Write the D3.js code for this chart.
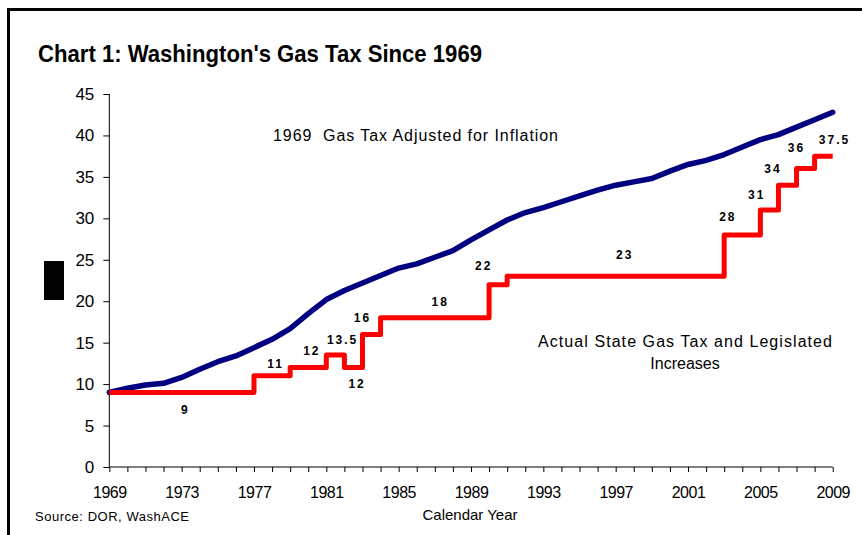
<!DOCTYPE html>
<html>
    <head>
        <meta charset="utf-8"/>
        <title>Chart 1: Washington's Gas Tax Since 1969</title>
        <script src="https://d3js.org/d3.v7.min.js"></script>
        <style>
            body { margin: 0; background: #fff; }
            svg { display: block; font-family: "Liberation Sans", Arial, sans-serif; }
        </style>
    </head>
    <body>
        <div id="output"></div>
        <script>
            //Calendar years shown on the x axis
            var years = d3.range(1969, 2010);

            //1969 gas tax adjusted for inflation (cents per gallon), one value per year
            var adjustedTax = [9.0, 9.5, 9.9, 10.1, 10.8, 11.8, 12.7, 13.4, 14.4, 15.4,
                               16.7, 18.5, 20.2, 21.3, 22.2, 23.1, 24.0, 24.5, 25.3, 26.1,
                               27.4, 28.6, 29.8, 30.7, 31.3, 32.0, 32.7, 33.4, 34.0, 34.4,
                               34.8, 35.7, 36.5, 37.0, 37.7, 38.6, 39.5, 40.1, 41.0, 41.9,
                               42.8];

            //Actual state gas tax: year each rate took effect and the rate
            var stepYears  = [1969, 1977, 1979, 1981, 1982, 1983, 1984, 1990, 1991, 2003, 2005, 2006, 2007, 2008, 2009];
            var stepValues = [9, 11, 12, 13.5, 12, 16, 18, 22, 23, 28, 31, 34, 36, 37.5, 37.5];

            //Rate labels and where they sit (in year / cents units)
            var labelText  = ["9", "11", "12", "13.5", "12", "16", "18", "22", "23", "28", "31", "34", "36", "37.5"];
            var labelYear  = [1973.2, 1978.2, 1980.2, 1981.9, 1982.7, 1983.0, 1987.3, 1989.7, 1997.5, 2003.2, 2004.8, 2005.7, 2007.0, 2009.1];
            var labelValue = [6.9, 12.5, 14.0, 15.4, 10.0, 18.0, 19.9, 24.3, 25.6, 30.2, 32.9, 36.0, 38.5, 39.5];

            //Tick values
            var yTicks = d3.range(0, 50, 5);
            var xLabelYears = d3.range(1969, 2010, 4);

            var width = 862, height = 535;

            var svg = d3.select("#output")
                .append("svg")
                    .attr("width", width)
                    .attr("height", height);

            //Frame (top and left edges only are visible)
            svg.append("path")
                .attr("d", "M8.5,535 V9.5 H862")
                .attr("fill", "none")
                .attr("stroke", "#000")
                .attr("stroke-width", 3);

            //Title
            svg.append("text")
                .attr("x", 38)
                .attr("y", 62)
                .attr("textLength", 444)
                .attr("lengthAdjust", "spacingAndGlyphs")
                .style("font-family", "'Liberation Sans Narrow', 'Arial Narrow', 'Liberation Sans', sans-serif")
                .style("font-size", "24px")
                .style("font-weight", "bold")
                .text("Chart 1: Washington's Gas Tax Since 1969");

            //Scales
            var x = d3.scaleLinear()
                .domain([1969, 2009])
                .range([109.3, 832.7]);
            var y = d3.scaleLinear()
                .domain([0, 45])
                .range([467, 94]);

            //Y axis
            var yAxis = svg.append("g")
                .attr("transform", "translate(" + x(1969) + ",0)")
                .call(d3.axisLeft(y).tickValues(yTicks).tickSize(6).tickPadding(9).tickFormat(d3.format("d")));
            yAxis.select(".domain").attr("d", "M0," + y(45) + "V" + y(0));
            yAxis.selectAll("text")
                .style("font-size", "17px")
                .style("font-family", "'Liberation Sans', Arial, sans-serif")
                .attr("fill", "#000");

            //X axis, a tick every year, a label every four years
            var xAxis = svg.append("g")
                .attr("transform", "translate(0," + y(0) + ")")
                .call(d3.axisBottom(x).tickValues(years).tickSize(5).tickPadding(15)
                    .tickFormat(function(d) { return xLabelYears.indexOf(d) >= 0 ? d : ""; }));
            xAxis.select(".domain").attr("d", "M" + x(1969) + ",0H" + x(2009));
            xAxis.selectAll("text")
                .style("font-size", "16px")
                .style("letter-spacing", "-0.5px")
                .style("font-family", "'Liberation Sans', Arial, sans-serif")
                .attr("fill", "#000");

            //Inflation-adjusted line
            var adjLine = d3.line()
                .x(function(d, i) { return x(years[i]); })
                .y(function(d) { return y(d); });
            svg.append("path")
                .datum(adjustedTax)
                .attr("fill", "none")
                .attr("stroke", "#000080")
                .attr("stroke-width", 5.5)
                .attr("stroke-linejoin", "round")
                .attr("stroke-linecap", "round")
                .attr("d", adjLine);

            //Actual gas tax as a step line
            var stepLine = d3.line()
                .x(function(d, i) { return x(stepYears[i]); })
                .y(function(d) { return y(d); })
                .curve(d3.curveStepAfter);
            svg.append("path")
                .datum(stepValues)
                .attr("fill", "none")
                .attr("stroke", "#ff0000")
                .attr("stroke-width", 5)
                .attr("stroke-linejoin", "round")
                .attr("d", stepLine);

            //Rate labels
            svg.selectAll(".rate")
                .data(labelText)
                .enter()
                .append("text")
                    .attr("class", "rate")
                    .attr("x", function(d, i) { return x(labelYear[i]); })
                    .attr("y", function(d, i) { return y(labelValue[i]); })
                    .attr("dy", "0.36em")
                    .attr("text-anchor", "middle")
                    .style("font-size", "12px")
                    .style("font-weight", "bold")
                    .style("letter-spacing", "2px")
                    .text(function(d) { return d; });

            //Series captions
            svg.append("text")
                .attr("x", 273)
                .attr("y", 141)
                .attr("textLength", 285)
                .attr("lengthAdjust", "spacing")
                .style("font-size", "16px")
                .style("white-space", "pre")
                .text("1969  Gas Tax Adjusted for Inflation");

            svg.append("text")
                .attr("x", 538)
                .attr("y", 347)
                .attr("textLength", 294)
                .attr("lengthAdjust", "spacing")
                .style("font-size", "16px")
                .text("Actual State Gas Tax and Legislated");
            svg.append("text")
                .attr("x", 685)
                .attr("y", 369)
                .attr("text-anchor", "middle")
                .style("font-size", "16px")
                .text("Increases");

            //Axis title
            svg.append("text")
                .attr("x", 470)
                .attr("y", 520)
                .attr("text-anchor", "middle")
                .style("font-size", "15px")
                .text("Calendar Year");

            //Source note
            svg.append("text")
                .attr("x", 35)
                .attr("y", 521)
                .attr("textLength", 154)
                .attr("lengthAdjust", "spacing")
                .style("font-size", "13px")
                .text("Source: DOR, WashACE");

            //Black box next to the y axis
            svg.append("rect")
                .attr("x", 44)
                .attr("y", 261)
                .attr("width", 20)
                .attr("height", 39)
                .attr("fill", "#000");
        </script>
    </body>
</html>
